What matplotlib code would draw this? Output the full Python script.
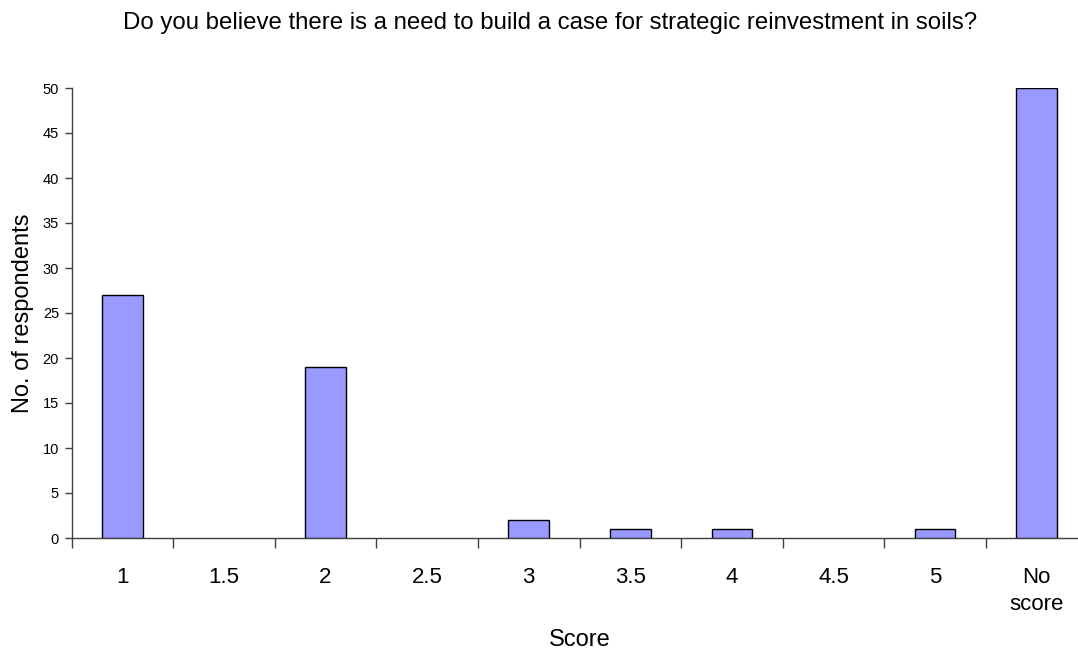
import matplotlib
matplotlib.use("Agg")
import matplotlib.pyplot as plt
import numpy as np

categories = ["1", "1.5", "2", "2.5", "3", "3.5", "4", "4.5", "5", "No\nscore"]
values = [27, 0, 19, 0, 2, 1, 1, 0, 1, 50]
yticks = [0, 5, 10, 15, 20, 25, 30, 35, 40, 45, 50]

plt.rcParams['font.family'] = ['Liberation Sans', 'DejaVu Sans']

fig = plt.figure(figsize=(10.78, 6.52), dpi=100)
ax = fig.add_axes([71.5/1078, 114/652, 1016/1078, 450/652])

x = np.arange(len(categories))
vals = np.array(values, dtype=float)
mask = vals > 0
ax.bar(x[mask], vals[mask], width=0.4, color='#9999FF', edgecolor='black', linewidth=1.0, zorder=3)

ax.set_xlim(-0.5, len(categories) - 0.5)
ax.set_ylim(0, 50)
ax.set_yticks(yticks)
ax.set_yticklabels([str(v) for v in yticks], fontsize=10.5)

ax.set_xticks(x)
ax.set_xticklabels(categories, fontsize=16, linespacing=1.38)
ax.tick_params(axis='x', which='major', length=0, pad=21)
ax.set_xticks(np.arange(len(categories) + 1) - 0.5, minor=True)
ax.tick_params(axis='x', which='minor', length=7, direction='out', color='#404040', width=1)
ax.tick_params(axis='y', length=5, direction='out', color='#404040', width=1, pad=4)

for s in ['top', 'right']:
    ax.spines[s].set_visible(False)
for s in ['left', 'bottom']:
    ax.spines[s].set_color('#404040')
    ax.spines[s].set_linewidth(1)

fig.text(23/1078, 1 - 313/652, "No. of respondents", rotation=90,
         ha='center', va='center', fontsize=17)
fig.text(550/1078, 1 - 23/652, "Do you believe there is a need to build a case for strategic reinvestment in soils?",
         ha='center', va='center', fontsize=17.3)
fig.text(580/1078, 1 - 640/652, "Score", ha='center', va='center', fontsize=17)

fig.savefig("out.png", dpi=100)
